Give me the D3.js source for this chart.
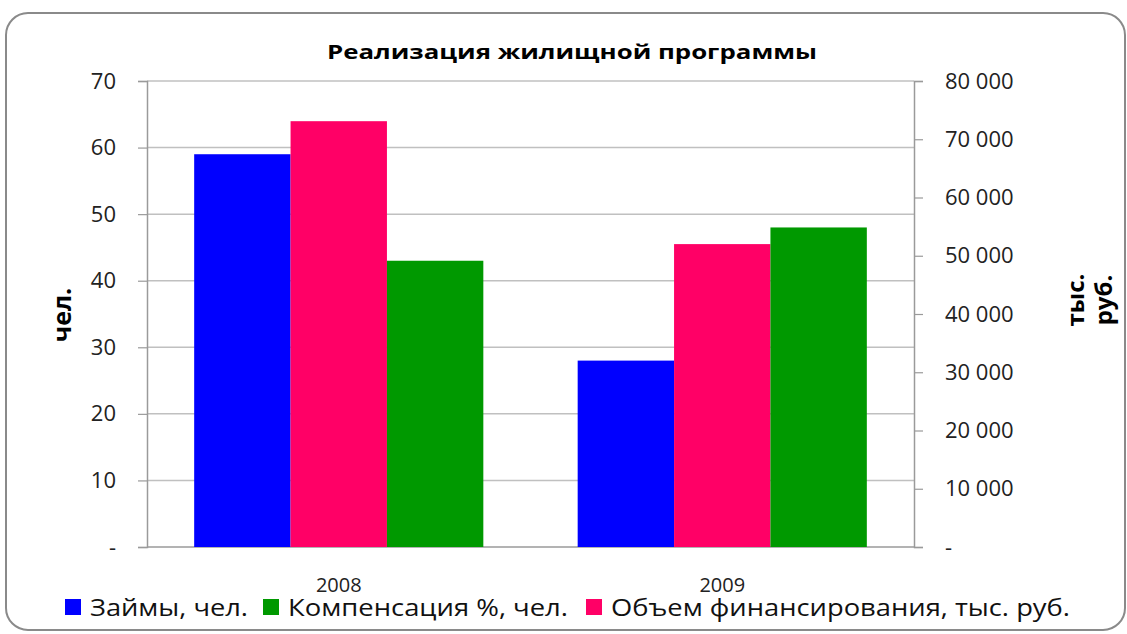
<!DOCTYPE html>
<html>
<head>
<meta charset="utf-8">
<script src="https://cdn.jsdelivr.net/npm/d3@7"></script>
<style>
  body { margin: 0; background: #fff; }
  text { font-family: "Open Sans", "Noto Sans", sans-serif; }
</style>
</head>
<body>
<div class="chart"></div>
<script>
// Data
const years = ["2008", "2009"];
const loans = [59, 28];                 // Займы, чел. (left axis)
const compensation = [43, 48];          // Компенсация %, чел. (left axis)
const funding = [73100, 52000];         // Объем финансирования, тыс. руб. (right axis)
const leftTicks = [0, 10, 20, 30, 40, 50, 60, 70];
const rightTicks = [0, 10000, 20000, 30000, 40000, 50000, 60000, 70000, 80000];

const W = 1127, H = 634;
const plot = {left: 147, right: 914, top: 81, bottom: 547};

const svg = d3.select(".chart").append("svg")
    .attr("width", W)
    .attr("height", H);

// Outer rounded frame
svg.append("rect")
    .attr("x", 6).attr("y", 13)
    .attr("width", 1119).attr("height", 617)
    .attr("rx", 22)
    .attr("fill", "#fff")
    .attr("stroke", "#8a8a8a")
    .attr("stroke-width", 2);

const x0 = d3.scaleBand().domain(years).range([plot.left, plot.right]).paddingInner(0.246).paddingOuter(0.123);
const series = ["loans", "funding", "compensation"];
const x1 = d3.scaleBand().domain(series).range([0, x0.bandwidth()]);
const yL = d3.scaleLinear().domain([0, 70]).range([plot.bottom, plot.top]);
const yR = d3.scaleLinear().domain([0, 80000]).range([plot.bottom, plot.top]);

const fmtR = v => v === 0 ? "-" : d3.format(",")(v).replace(/,/g, " ");
const fmtL = v => v === 0 ? "-" : String(v);

// Gridlines
svg.append("g")
    .selectAll("line")
    .data(leftTicks.slice(1))
    .join("line")
    .attr("x1", plot.left).attr("x2", plot.right)
    .attr("y1", d => yL(d)).attr("y2", d => yL(d))
    .attr("stroke", "#c0c0c0")
    .attr("stroke-width", 1.5);

// Left axis
const gL = svg.append("g")
    .attr("transform", "translate(" + plot.left + ",0)")
    .call(d3.axisLeft(yL).tickValues(leftTicks).tickFormat(fmtL).tickSize(9).tickPadding(22));
// Right axis
const gR = svg.append("g")
    .attr("transform", "translate(" + plot.right + ",0)")
    .call(d3.axisRight(yR).tickValues(rightTicks).tickFormat(fmtR).tickSize(9).tickPadding(22));
[gL, gR].forEach(g => {
    g.select(".domain").attr("stroke", "#9a9a9a").attr("stroke-width", 1.5);
    g.selectAll(".tick line").attr("stroke", "#9a9a9a").attr("stroke-width", 1.2);
    g.selectAll(".tick text").attr("font-size", 22).attr("fill", "#222");
});

// Bottom axis line
svg.append("line")
    .attr("x1", plot.left).attr("x2", plot.right)
    .attr("y1", plot.bottom).attr("y2", plot.bottom)
    .attr("stroke", "#9a9a9a").attr("stroke-width", 1.5);

// Bars
const colors = {loans: "#0000ff", funding: "#ff0066", compensation: "#009900"};
const rows = years.map((yr, i) => ({
    year: yr,
    bars: [
        {key: "loans", y: yL(loans[i])},
        {key: "funding", y: yR(funding[i])},
        {key: "compensation", y: yL(compensation[i])}
    ]
}));
svg.append("g")
    .selectAll("g")
    .data(rows)
    .join("g")
    .attr("transform", d => "translate(" + x0(d.year) + ",0)")
    .selectAll("rect")
    .data(d => d.bars)
    .join("rect")
    .attr("x", d => x1(d.key))
    .attr("width", x1.bandwidth())
    .attr("y", d => d.y)
    .attr("height", d => plot.bottom - d.y)
    .attr("fill", d => colors[d.key]);

// Category labels (sit just above the legend, as in the source)
svg.append("g")
    .selectAll("text")
    .data(years)
    .join("text")
    .attr("x", d => x0(d) + x0.bandwidth() / 2)
    .attr("y", 592)
    .attr("text-anchor", "middle")
    .attr("font-size", 20)
    .attr("fill", "#222")
    .text(d => d);

// Title
svg.append("text")
    .attr("x", 572).attr("y", 59)
    .attr("text-anchor", "middle")
    .attr("font-size", 20)
    .attr("font-weight", "bold")
    .attr("textLength", 490)
    .attr("lengthAdjust", "spacingAndGlyphs")
    .text("Реализация жилищной программы");

// Axis titles
svg.append("text")
    .attr("transform", "translate(71,315) rotate(-90)")
    .attr("text-anchor", "middle")
    .attr("font-size", 25)
    .attr("font-weight", "bold")
    .text("чел.");
const rt = svg.append("text")
    .attr("transform", "translate(1084,300) rotate(-90)")
    .attr("text-anchor", "middle")
    .attr("font-size", 24)
    .attr("font-weight", "bold");
rt.append("tspan").attr("x", 0).attr("dy", 0).text("тыс.");
rt.append("tspan").attr("x", 0).attr("dy", 28).text("руб.");

// Legend
const legendItems = [
    {label: "Займы, чел.", color: colors.loans, x: 65, w: 158},
    {label: "Компенсация %, чел.", color: colors.compensation, x: 263, w: 280},
    {label: "Объем финансирования, тыс. руб.", color: colors.funding, x: 586, w: 459}
];
const lg = svg.append("g").attr("transform", "translate(0,616)");
legendItems.forEach(item => {
    const g = lg.append("g").attr("transform", "translate(" + item.x + ",0)");
    g.append("rect").attr("x", 0).attr("y", -17).attr("width", 16).attr("height", 16).attr("fill", item.color);
    g.append("text")
        .attr("x", 25).attr("y", 0)
        .attr("font-size", 24)
        .attr("fill", "#111")
        .attr("textLength", item.w)
        .attr("lengthAdjust", "spacingAndGlyphs")
        .text(item.label);
});
</script>
</body>
</html>
